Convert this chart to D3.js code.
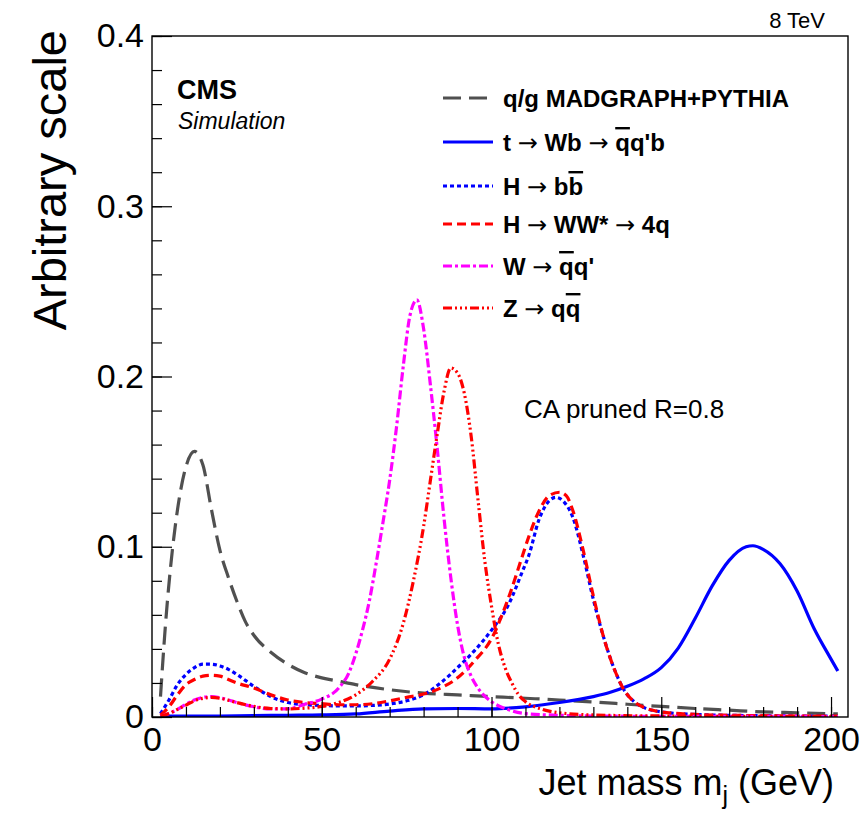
<!DOCTYPE html>
<html>
<head>
<meta charset="utf-8">
<script src="https://cdn.jsdelivr.net/npm/d3@7"></script>
<style>
  html, body { margin: 0; padding: 0; background: #fff; }
  svg text { font-family: "Liberation Sans", Arial, Helvetica, sans-serif; fill: #000; }
</style>
</head>
<body>
<svg id="chart" width="866" height="813"></svg>
<script>
// Jet mass distributions, CA pruned R=0.8, 8 TeV simulation

const qcdMass = [2.5, 4, 6, 8, 10, 12.5, 15, 17.5, 20, 22.5, 25, 27.5, 30, 35, 40, 45, 50, 55, 60, 70, 80, 90, 100, 110, 120, 130, 140, 150, 160, 170, 180, 190, 202];
const qcdValue = [0.012, 0.055, 0.098, 0.128, 0.147, 0.156, 0.148, 0.122, 0.098, 0.082, 0.068, 0.056, 0.048, 0.038, 0.031, 0.026, 0.023, 0.021, 0.019, 0.016, 0.014, 0.013, 0.012, 0.011, 0.010, 0.0088, 0.0075, 0.0062, 0.005, 0.004, 0.003, 0.0025, 0.0018];

const topMass = [2.5, 10, 20, 30, 40, 50, 60, 70, 80, 90, 100, 110, 120, 130, 135, 140, 145, 150, 155, 160, 165, 170, 175, 177, 180, 185, 190, 195, 200, 202];
const topValue = [0.0005, 0.0005, 0.0006, 0.0008, 0.001, 0.0012, 0.0018, 0.0035, 0.0048, 0.005, 0.0048, 0.006, 0.0085, 0.012, 0.0145, 0.018, 0.0225, 0.029, 0.0405, 0.058, 0.077, 0.092, 0.1, 0.1006, 0.0985, 0.09, 0.074, 0.052, 0.034, 0.027];

const hbbMass = [2.5, 5, 7.5, 10, 12.5, 15, 17.5, 20, 22.5, 25, 30, 35, 40, 45, 50, 55, 60, 65, 70, 75, 80, 85, 90, 95, 100, 105, 109, 111, 114, 117, 119, 121, 124, 127, 130, 133, 136, 139, 142, 145, 150, 160, 170, 180, 190, 202];
const hbbValue = [0.002, 0.010, 0.019, 0.025, 0.029, 0.031, 0.031, 0.030, 0.028, 0.025, 0.018, 0.012, 0.0085, 0.0072, 0.0068, 0.0065, 0.0065, 0.0068, 0.0076, 0.0095, 0.013, 0.020, 0.029, 0.039, 0.051, 0.066, 0.085, 0.095, 0.116, 0.127, 0.129, 0.127, 0.117, 0.095, 0.069, 0.047, 0.029, 0.016, 0.009, 0.0055, 0.003, 0.0015, 0.001, 0.0008, 0.0006, 0.0005];

const hwwMass = [2.5, 5, 7.5, 10, 12.5, 15, 17.5, 20, 22.5, 25, 30, 35, 40, 45, 50, 55, 60, 65, 70, 75, 80, 85, 90, 95, 100, 105, 109, 111, 114, 117, 120, 122, 124, 127, 130, 133, 136, 139, 142, 145, 150, 160, 170, 180, 190, 202];
const hwwValue = [0.001, 0.006, 0.013, 0.019, 0.022, 0.024, 0.0245, 0.024, 0.022, 0.020, 0.017, 0.013, 0.010, 0.0085, 0.0078, 0.0072, 0.0072, 0.0078, 0.0095, 0.0115, 0.0135, 0.017, 0.023, 0.033, 0.046, 0.070, 0.094, 0.106, 0.121, 0.130, 0.132, 0.130, 0.121, 0.098, 0.071, 0.047, 0.029, 0.016, 0.009, 0.0055, 0.003, 0.0015, 0.001, 0.0008, 0.0006, 0.0005];

const wMass = [2.5, 5, 7.5, 10, 12.5, 15, 17.5, 20, 22.5, 25, 30, 35, 40, 45, 50, 55, 58, 60, 62, 64, 66, 68, 70, 72, 74, 76, 78, 80, 82, 84, 86, 88, 90, 92, 94, 96, 100, 104, 110, 120, 130, 150, 202];
const wValue = [0.0005, 0.002, 0.0045, 0.0075, 0.010, 0.0115, 0.012, 0.0113, 0.010, 0.0085, 0.006, 0.0047, 0.0048, 0.0075, 0.0105, 0.017, 0.026, 0.037, 0.051, 0.068, 0.090, 0.114, 0.139, 0.170, 0.206, 0.236, 0.245, 0.228, 0.195, 0.158, 0.117, 0.082, 0.054, 0.035, 0.024, 0.017, 0.009, 0.005, 0.002, 0.001, 0.0006, 0.0004, 0.0003];

const zMass = [2.5, 5, 7.5, 10, 12.5, 15, 17.5, 20, 22.5, 25, 30, 35, 40, 45, 50, 55, 60, 65, 70, 74, 77, 80, 82, 84, 86, 88, 90, 92, 94, 96, 98, 100, 102, 104, 106, 108, 110, 115, 120, 130, 150, 202];
const zValue = [0.0005, 0.002, 0.0045, 0.007, 0.0095, 0.011, 0.0115, 0.011, 0.0098, 0.0085, 0.0062, 0.005, 0.0048, 0.0052, 0.0062, 0.0085, 0.013, 0.021, 0.034, 0.055, 0.080, 0.112, 0.139, 0.166, 0.191, 0.205, 0.202, 0.190, 0.165, 0.128, 0.092, 0.065, 0.043, 0.029, 0.020, 0.013, 0.009, 0.0045, 0.0025, 0.0012, 0.0006, 0.0003];

const yTicks = [0, 0.1, 0.2, 0.3, 0.4];
const xTicks = [0, 50, 100, 150, 200];

const series = [
  { key: "qcd", mass: qcdMass, value: qcdValue, color: "#505050", dash: "18,8" },
  { key: "top", mass: topMass, value: topValue, color: "#0000ff", dash: null },
  { key: "hbb", mass: hbbMass, value: hbbValue, color: "#0000ff", dash: "4,3" },
  { key: "hww", mass: hwwMass, value: hwwValue, color: "#ff0000", dash: "9,5" },
  { key: "w",   mass: wMass,   value: wValue,   color: "#ff00ff", dash: "9,3,3,3" },
  { key: "z",   mass: zMass,   value: zValue,   color: "#ff0000", dash: "9,3,2,3,2,3,2,3" }
];

const svg = d3.select("#chart");
const frame = { left: 152, right: 848, top: 36, bottom: 717 };

const x = d3.scaleLinear().domain([0, 205]).range([frame.left, frame.right]);
const y = d3.scaleLinear().domain([0, 0.4]).range([frame.bottom, frame.top]);

// Curves
const line = d3.line()
  .x(d => x(d[0]))
  .y(d => y(d[1]))
  .curve(d3.curveMonotoneX);

svg.append("defs").append("clipPath").attr("id", "clip")
  .append("rect").attr("x", frame.left).attr("y", frame.top)
  .attr("width", frame.right - frame.left).attr("height", frame.bottom - frame.top);

const curves = svg.append("g").attr("clip-path", "url(#clip)");
series.forEach(s => {
  curves.append("path")
    .datum(d3.zip(s.mass, s.value))
    .attr("d", line)
    .attr("fill", "none")
    .attr("stroke", s.color)
    .attr("stroke-width", 3.2)
    .attr("stroke-dasharray", s.dash)
    .attr("stroke-linejoin", "round");
});

// Axes: ticks point inward, as ROOT draws them
const yMajor = d3.axisLeft(y).tickValues(yTicks).tickSizeInner(-20).tickSizeOuter(0).tickPadding(8)
  .tickFormat(d => d === 0 ? "0" : d3.format(".1f")(d));
const yMinor = d3.axisLeft(y).tickValues(d3.range(0, 0.401, 0.02)).tickSizeInner(-10).tickSizeOuter(0).tickFormat("");
const xMajor = d3.axisBottom(x).tickValues(xTicks).tickSizeInner(-20).tickSizeOuter(0).tickPadding(10);
const xMinor = d3.axisBottom(x).tickValues(d3.range(0, 205, 10)).tickSizeInner(-10).tickSizeOuter(0).tickFormat("");

function styleAxis(g) {
  g.select(".domain").remove();
  g.selectAll(".tick line").attr("stroke", "#000").attr("stroke-width", 1.2);
  g.selectAll(".tick text").attr("font-size", 34).attr("font-family", "Liberation Sans, Arial, sans-serif").attr("fill", "#000");
}

svg.append("g").attr("transform", `translate(${frame.left},0)`).call(yMinor).call(styleAxis);
svg.append("g").attr("transform", `translate(${frame.left},0)`).call(yMajor).call(styleAxis);
svg.append("g").attr("transform", `translate(0,${frame.bottom})`).call(xMinor).call(styleAxis);
svg.append("g").attr("transform", `translate(0,${frame.bottom})`).call(xMajor).call(styleAxis);

// Frame
svg.append("rect")
  .attr("x", frame.left).attr("y", frame.top)
  .attr("width", frame.right - frame.left).attr("height", frame.bottom - frame.top)
  .attr("fill", "none").attr("stroke", "#000").attr("stroke-width", 1.4);

// Axis titles
svg.append("text")
  .attr("transform", `translate(66,30) rotate(-90)`)
  .attr("text-anchor", "end")
  .attr("font-size", 47)
  .text("Arbitrary scale");

const xt = svg.append("text")
  .attr("x", 834).attr("y", 795)
  .attr("text-anchor", "end")
  .attr("font-size", 36);
xt.append("tspan").text("Jet mass m");
xt.append("tspan").attr("font-size", 25).attr("dy", 9).text("j");
xt.append("tspan").attr("dy", -9).text(" (GeV)");

// Labels
svg.append("text").attr("x", 825).attr("y", 28).attr("text-anchor", "end").attr("font-size", 22).text("8 TeV");
svg.append("text").attr("x", 177).attr("y", 99).attr("font-size", 27).attr("font-weight", "bold").text("CMS");
svg.append("text").attr("x", 178).attr("y", 129).attr("font-size", 23).attr("font-style", "italic").text("Simulation");
svg.append("text").attr("x", 524).attr("y", 418).attr("font-size", 26).text("CA pruned R=0.8");

// Legend; parts are [text, style] where style is "bar" (overline) or "arrow"
const ARROW = "\u2192";
const legendRows = [
  { key: "qcd", cy: 98,  parts: [["q/g MADGRAPH+PYTHIA"]] },
  { key: "top", cy: 142, parts: [["t "], [ARROW, "arrow"], [" Wb "], [ARROW, "arrow"], [" "], ["q", "bar"], ["q'b"]] },
  { key: "hbb", cy: 186, parts: [["H "], [ARROW, "arrow"], [" b"], ["b", "bar"]] },
  { key: "hww", cy: 224, parts: [["H "], [ARROW, "arrow"], [" WW* "], [ARROW, "arrow"], [" 4q"]] },
  { key: "w",   cy: 266, parts: [["W "], [ARROW, "arrow"], [" "], ["q", "bar"], ["q'"]] },
  { key: "z",   cy: 308, parts: [["Z "], [ARROW, "arrow"], [" q"], ["q", "bar"]] }
];

const legend = svg.append("g");
legendRows.forEach(r => {
  const s = series.find(d => d.key === r.key);
  legend.append("line")
    .attr("x1", 443).attr("x2", 493).attr("y1", r.cy).attr("y2", r.cy)
    .attr("stroke", s.color).attr("stroke-width", 3.2)
    .attr("stroke-dasharray", s.dash);
  const t = legend.append("text")
    .attr("x", 503).attr("y", r.cy + 9)
    .attr("font-size", 24).attr("font-weight", "bold")
    .attr("xml:space", "preserve")
    .style("white-space", "pre");
  r.parts.forEach(([txt, kind]) => {
    const sp = t.append("tspan").text(txt);
    if (kind === "bar") sp.style("text-decoration", "overline");
    if (kind === "arrow") sp.attr("font-family", "DejaVu Sans").attr("font-weight", "normal");
  });
});
</script>
</body>
</html>
